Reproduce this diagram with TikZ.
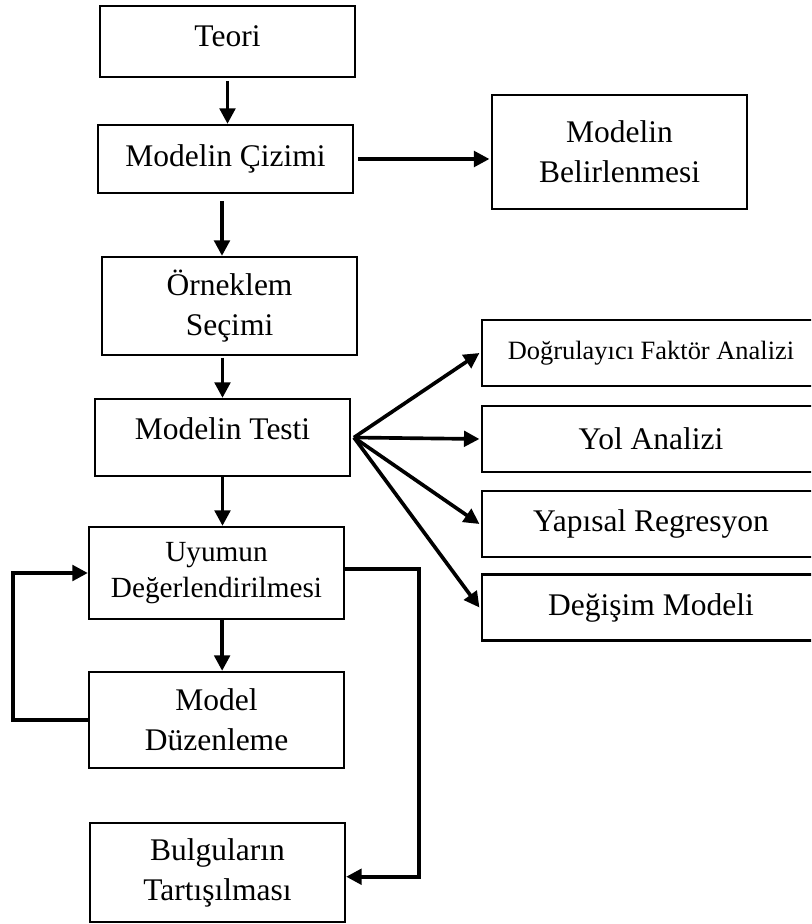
\documentclass[tikz,border=0pt]{standalone}
\usepackage{fontspec}
\setmainfont{Liberation Serif}
\usetikzlibrary{arrows.meta}
\tikzset{
    every node/.style={draw, line width=1.6pt, align=center, inner sep=0mm,
        minimum width=6.375cm, font=\fontsize{22.4}{28.4}\selectfont}
}
\tikzset{flow/.style={line width=2.6pt, -{Triangle[length=11pt,width=11pt]}}}
\tikzset{wide/.style={minimum width=8.45cm, minimum height=1.65cm}}

\begin{document}
\begin{tikzpicture}[x=0.025cm, y=-0.025cm]
        \clip (0,0) rectangle (811,924);
        \node (teori) [minimum height=1.775cm, text depth=7pt] at (227.5, 41.5) {Teori};
        \node (cizim) [minimum height=1.7cm] at (225.5, 159) {Modelin Çizimi};
        \node (belirle) [minimum height=2.85cm] at (619.5, 152) {Modelin\\Belirlenmesi};
        \node (orneklem) [minimum height=2.45cm] at (229.5, 306) {Örneklem\\Seçimi};
        \node (test) [minimum height=1.925cm, text depth=12pt] at (222.5, 437.5) {Modelin Testi};
        \node (uyum) [minimum height=2.3cm, font=\fontsize{20.8}{25}\selectfont] at (216.5, 573) {Uyumun\\Değerlendirilmesi};
        \node (duzen) [minimum height=2.4cm] at (216.5, 720) {Model\\Düzenleme};
        \node (bulgu) [minimum height=2.475cm] at (217.5, 872.5) {Bulguların\\Tartışılması};
        \node (dfa) [wide, font=\fontsize{18.8}{22}\selectfont] at (651, 353) {Doğrulayıcı Faktör Analizi};
        \node (yol) [wide] at (651, 439) {Yol Analizi};
        \node (yapisal) [wide] at (651, 524) {Yapısal Regresyon};
        \node (degisim) [wide] at (651, 607.5) {Değişim Modeli};
        \draw[flow] ([yshift=-2pt]teori.south) -- (teori.south |- cizim.north);
        \draw[flow] ([xshift=3pt]cizim.east) -- ([xshift=-1pt]belirle.west |- cizim.east);
        \draw[flow] ([xshift=-2.5pt, yshift=-5pt]cizim.south) -- ([xshift=-2.5pt]cizim.south |- orneklem.north);
        \draw[flow] ([yshift=-1pt]orneklem.south -| test.north) -- (test.north);
        \draw[flow] (test.south) -- (test.south |- uyum.north);
        \draw[flow] ([xshift=2pt]test.east) -- ([xshift=-1pt]dfa.west);
        \draw[flow] ([xshift=2pt]test.east) -- ([xshift=-1pt]yol.west);
        \draw[flow] ([xshift=2pt]test.east) -- ([xshift=-1pt]yapisal.west);
        \draw[flow] ([xshift=2pt]test.east) -- ([xshift=-1pt]degisim.west);
        \draw[flow] ([xshift=4pt]uyum.south) -- ([xshift=4pt]uyum.south |- duzen.north);
        \draw[flow] (duzen.west) -- ++(-75,0) |- (uyum.west);
        \draw[flow] ([yshift=3pt]uyum.east) -- ++(74,0) |- ([yshift=-3pt]bulgu.east);
\end{tikzpicture}
\end{document}
